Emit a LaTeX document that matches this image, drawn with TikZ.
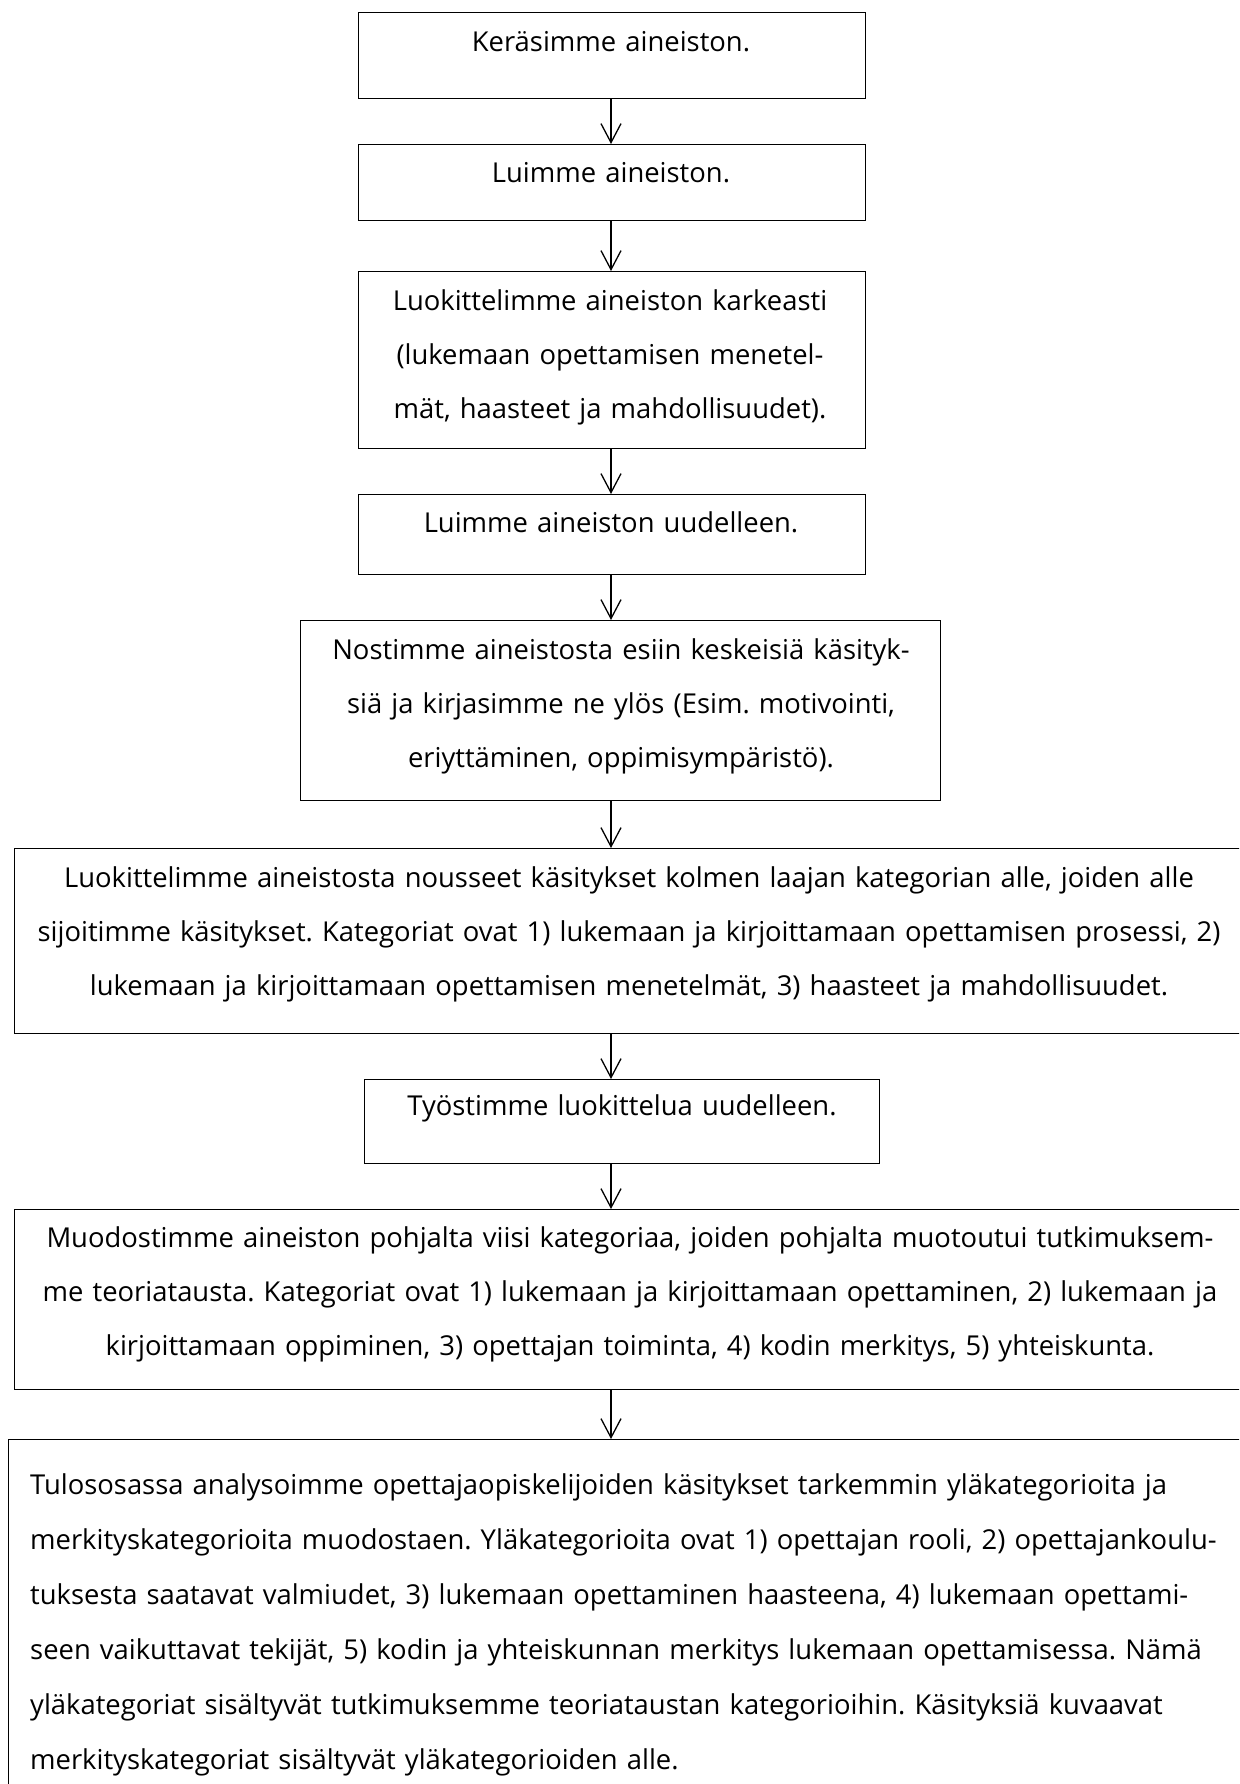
\documentclass[tikz,border=0pt]{standalone}
\usepackage{fontspec}
\setmainfont{Open Sans}[Ligatures=CommonOff]
\usetikzlibrary{arrows.meta}
\frenchspacing
\begin{document}
\begin{tikzpicture}[x=1pt,y=-1pt,
  box/.style={draw=black, line width=1.4pt, inner sep=0pt, anchor=north west, rectangle},
  txt/.style={font=\fontsize{27.4}{54}\selectfont\frenchspacing, text width=1400pt, align=center, anchor=base, inner sep=0pt},
  txtl/.style={font=\fontsize{27.4}{55}\selectfont\frenchspacing, text width=1400pt, align=left, anchor=base west, inner sep=0pt},
  flow/.style={-{Straight Barb[length=19pt,width=20pt]}, line width=1.3pt}]
\clip (0,0) rectangle (1239,1784);
\fill[white] (0,0) rectangle (1239,1784);
% boxes
\node[box, minimum width=507pt, minimum height=86pt]  (b1) at (358,12) {};
\node[box, minimum width=507pt, minimum height=76pt]  (b2) at (358,144) {};
\node[box, minimum width=507pt, minimum height=177pt] (b3) at (358,271) {};
\node[box, minimum width=507pt, minimum height=80pt]  (b4) at (358,494) {};
\node[box, minimum width=640pt, minimum height=180pt] (b5) at (300,620) {};
\node[box, minimum width=1240pt, minimum height=185pt] (b6) at (14,848) {};
\node[box, minimum width=515pt, minimum height=84pt]  (b7) at (364,1079) {};
\node[box, minimum width=1240pt, minimum height=180pt] (b8) at (14,1209) {};
\node[box, minimum width=1246pt, minimum height=370pt] (b9) at (8,1439) {};
% texts
\node[txt] (t1) at (611,51.5) {Keräsimme aineiston.};
\node[txt] (t2) at (611,182.5) {Luimme aineiston.};
\node[txt] (t3) at (610,310.5) {Luokittelimme aineiston karkeasti\\(lukemaan opettamisen menetel-\\mät, haasteet ja mahdollisuudet).};
\node[txt] (t4) at (611,532.5) {Luimme aineiston uudelleen.};
\node[txt] (t5) at (621,659.5) {Nostimme aineistosta esiin keskeisiä käsityk-\\siä ja kirjasimme ne ylös (Esim. motivointi,\\eriyttäminen, oppimisympäristö).};
\node[txt] (t6) at (629,887) {Luokittelimme aineistosta nousseet käsitykset kolmen laajan kategorian alle, joiden alle\\sijoitimme käsitykset. Kategoriat ovat 1) lukemaan ja kirjoittamaan opettamisen prosessi, 2)\\lukemaan ja kirjoittamaan opettamisen menetelmät, 3) haasteet ja mahdollisuudet.};
\node[txt] (t7) at (622,1115.5) {Työstimme luokittelua uudelleen.};
\node[txt] (t8) at (630,1247.5) {Muodostimme aineiston pohjalta viisi kategoriaa, joiden pohjalta muotoutui tutkimuksem-\\me teoriatausta. Kategoriat ovat 1) lukemaan ja kirjoittamaan opettaminen, 2) lukemaan ja\\kirjoittamaan oppiminen, 3) opettajan toiminta, 4) kodin merkitys, 5) yhteiskunta.};
\node[txtl] (t9) at (30,1494.5) {Tulososassa analysoimme opettajaopiskelijoiden käsitykset tarkemmin yläkategorioita ja\\merkityskategorioita muodostaen. Yläkategorioita ovat 1) opettajan rooli, 2) opettajankoulu-\\tuksesta saatavat valmiudet, 3) lukemaan opettaminen haasteena, 4) lukemaan opettami-\\seen vaikuttavat tekijät, 5) kodin ja yhteiskunnan merkitys lukemaan opettamisessa. Nämä\\yläkategoriat sisältyvät tutkimuksemme teoriataustan kategorioihin. Käsityksiä kuvaavat\\merkityskategoriat sisältyvät yläkategorioiden alle.};
% connectors
\coordinate (ax) at (611,0);
\draw[flow] (b1.south -| ax) -- (b2.north -| ax);
\draw[flow] (b2.south -| ax) -- (b3.north -| ax);
\draw[flow] (b3.south -| ax) -- (b4.north -| ax);
\draw[flow] (b4.south -| ax) -- (b5.north -| ax);
\draw[flow] (b5.south -| ax) -- (b6.north -| ax);
\draw[flow] (b6.south -| ax) -- (b7.north -| ax);
\draw[flow] (b7.south -| ax) -- (b8.north -| ax);
\draw[flow] (b8.south -| ax) -- (b9.north -| ax);
\end{tikzpicture}
\end{document}
